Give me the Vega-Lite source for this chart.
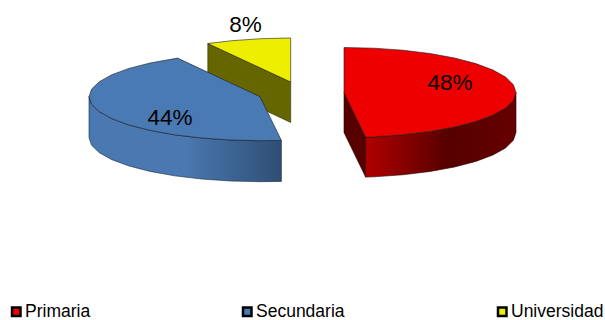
{
  "$schema": "https://vega.github.io/schema/vega-lite/v6.json",
  "width": 605,
  "height": 320,
  "padding": 0,
  "autosize": {"type": "fit", "contains": "padding"},
  "background": "white",
  "config": {"view": {"stroke": null}},
  "datasets": {
    "shares": [
      {"nivel": "Primaria", "share": 0.48, "lx": 450, "ly": 83},
      {"nivel": "Secundaria", "share": 0.44, "lx": 170, "ly": 118},
      {"nivel": "Universidad", "share": 0.08, "lx": 245.5, "ly": 25}
    ],
    "outlines": [
      {"part": "yellowWall", "seq": 0, "x": 207.8, "y": 43.5},
      {"part": "yellowWall", "seq": 1, "x": 290.7, "y": 82},
      {"part": "yellowWall", "seq": 2, "x": 290.7, "y": 122.5},
      {"part": "yellowWall", "seq": 3, "x": 207.8, "y": 83.5},
      {"part": "yellowWall", "seq": 4, "x": 207.8, "y": 43.5},

      {"part": "blueWall", "seq": 0, "x": 281.4, "y": 140.4},
      {"part": "blueWall", "seq": 1, "x": 260, "y": 140.7},
      {"part": "blueWall", "seq": 2, "x": 230.3, "y": 140},
      {"part": "blueWall", "seq": 3, "x": 201.5, "y": 138},
      {"part": "blueWall", "seq": 4, "x": 174.5, "y": 134.8},
      {"part": "blueWall", "seq": 5, "x": 150.1, "y": 130.4},
      {"part": "blueWall", "seq": 6, "x": 129, "y": 125},
      {"part": "blueWall", "seq": 7, "x": 111.9, "y": 118.7},
      {"part": "blueWall", "seq": 8, "x": 99.3, "y": 111.7},
      {"part": "blueWall", "seq": 9, "x": 91.6, "y": 104.3},
      {"part": "blueWall", "seq": 10, "x": 89, "y": 96.7},
      {"part": "blueWall", "seq": 11, "x": 89, "y": 137.7},
      {"part": "blueWall", "seq": 12, "x": 91.6, "y": 145.3},
      {"part": "blueWall", "seq": 13, "x": 99.3, "y": 152.7},
      {"part": "blueWall", "seq": 14, "x": 111.9, "y": 159.7},
      {"part": "blueWall", "seq": 15, "x": 129, "y": 166},
      {"part": "blueWall", "seq": 16, "x": 150.1, "y": 171.4},
      {"part": "blueWall", "seq": 17, "x": 174.5, "y": 175.8},
      {"part": "blueWall", "seq": 18, "x": 201.5, "y": 179},
      {"part": "blueWall", "seq": 19, "x": 230.3, "y": 181},
      {"part": "blueWall", "seq": 20, "x": 260, "y": 181.7},
      {"part": "blueWall", "seq": 21, "x": 281.4, "y": 181.4},
      {"part": "blueWall", "seq": 22, "x": 281.4, "y": 140.4},

      {"part": "redInner", "seq": 0, "x": 344, "y": 92.5},
      {"part": "redInner", "seq": 1, "x": 365.6, "y": 137.1},
      {"part": "redInner", "seq": 2, "x": 365.6, "y": 177.1},
      {"part": "redInner", "seq": 3, "x": 344, "y": 132.5},
      {"part": "redInner", "seq": 4, "x": 344, "y": 92.5},

      {"part": "redWall", "seq": 0, "x": 516, "y": 92.5},
      {"part": "redWall", "seq": 1, "x": 513.4, "y": 100.3},
      {"part": "redWall", "seq": 2, "x": 505.6, "y": 107.9},
      {"part": "redWall", "seq": 3, "x": 493, "y": 115},
      {"part": "redWall", "seq": 4, "x": 475.8, "y": 121.4},
      {"part": "redWall", "seq": 5, "x": 454.6, "y": 127},
      {"part": "redWall", "seq": 6, "x": 430, "y": 131.5},
      {"part": "redWall", "seq": 7, "x": 402.8, "y": 134.8},
      {"part": "redWall", "seq": 8, "x": 373.9, "y": 136.8},
      {"part": "redWall", "seq": 9, "x": 365.6, "y": 137.1},
      {"part": "redWall", "seq": 10, "x": 365.6, "y": 177.1},
      {"part": "redWall", "seq": 11, "x": 373.9, "y": 176.8},
      {"part": "redWall", "seq": 12, "x": 402.8, "y": 174.8},
      {"part": "redWall", "seq": 13, "x": 430, "y": 171.5},
      {"part": "redWall", "seq": 14, "x": 454.6, "y": 167},
      {"part": "redWall", "seq": 15, "x": 475.8, "y": 161.4},
      {"part": "redWall", "seq": 16, "x": 493, "y": 155},
      {"part": "redWall", "seq": 17, "x": 505.6, "y": 147.9},
      {"part": "redWall", "seq": 18, "x": 513.4, "y": 140.3},
      {"part": "redWall", "seq": 19, "x": 516, "y": 132.5},
      {"part": "redWall", "seq": 20, "x": 516, "y": 92.5},

      {"part": "top", "nivel": "Universidad", "seq": 0, "x": 290.7, "y": 82},
      {"part": "top", "nivel": "Universidad", "seq": 1, "x": 207.8, "y": 43.5},
      {"part": "top", "nivel": "Universidad", "seq": 2, "x": 231.9, "y": 40.7},
      {"part": "top", "nivel": "Universidad", "seq": 3, "x": 260.8, "y": 38.7},
      {"part": "top", "nivel": "Universidad", "seq": 4, "x": 290.7, "y": 38},
      {"part": "top", "nivel": "Universidad", "seq": 5, "x": 290.7, "y": 82},

      {"part": "top", "nivel": "Secundaria", "seq": 0, "x": 260, "y": 96.7},
      {"part": "top", "nivel": "Secundaria", "seq": 1, "x": 281.4, "y": 140.4},
      {"part": "top", "nivel": "Secundaria", "seq": 2, "x": 260, "y": 140.7},
      {"part": "top", "nivel": "Secundaria", "seq": 3, "x": 230.3, "y": 140},
      {"part": "top", "nivel": "Secundaria", "seq": 4, "x": 201.5, "y": 138},
      {"part": "top", "nivel": "Secundaria", "seq": 5, "x": 174.5, "y": 134.8},
      {"part": "top", "nivel": "Secundaria", "seq": 6, "x": 150.1, "y": 130.4},
      {"part": "top", "nivel": "Secundaria", "seq": 7, "x": 129, "y": 125},
      {"part": "top", "nivel": "Secundaria", "seq": 8, "x": 111.9, "y": 118.7},
      {"part": "top", "nivel": "Secundaria", "seq": 9, "x": 99.3, "y": 111.7},
      {"part": "top", "nivel": "Secundaria", "seq": 10, "x": 91.6, "y": 104.3},
      {"part": "top", "nivel": "Secundaria", "seq": 11, "x": 89, "y": 96.7},
      {"part": "top", "nivel": "Secundaria", "seq": 12, "x": 91.6, "y": 89.1},
      {"part": "top", "nivel": "Secundaria", "seq": 13, "x": 99.3, "y": 81.7},
      {"part": "top", "nivel": "Secundaria", "seq": 14, "x": 111.9, "y": 74.7},
      {"part": "top", "nivel": "Secundaria", "seq": 15, "x": 129, "y": 68.4},
      {"part": "top", "nivel": "Secundaria", "seq": 16, "x": 150.1, "y": 63},
      {"part": "top", "nivel": "Secundaria", "seq": 17, "x": 177.6, "y": 58.1},
      {"part": "top", "nivel": "Secundaria", "seq": 18, "x": 260, "y": 96.7},

      {"part": "top", "nivel": "Primaria", "seq": 0, "x": 344, "y": 92.5},
      {"part": "top", "nivel": "Primaria", "seq": 1, "x": 344, "y": 47.5},
      {"part": "top", "nivel": "Primaria", "seq": 2, "x": 373.9, "y": 48.2},
      {"part": "top", "nivel": "Primaria", "seq": 3, "x": 402.8, "y": 50.2},
      {"part": "top", "nivel": "Primaria", "seq": 4, "x": 430, "y": 53.5},
      {"part": "top", "nivel": "Primaria", "seq": 5, "x": 454.6, "y": 58},
      {"part": "top", "nivel": "Primaria", "seq": 6, "x": 475.8, "y": 63.6},
      {"part": "top", "nivel": "Primaria", "seq": 7, "x": 493, "y": 70},
      {"part": "top", "nivel": "Primaria", "seq": 8, "x": 505.6, "y": 77.1},
      {"part": "top", "nivel": "Primaria", "seq": 9, "x": 513.4, "y": 84.7},
      {"part": "top", "nivel": "Primaria", "seq": 10, "x": 516, "y": 92.5},
      {"part": "top", "nivel": "Primaria", "seq": 11, "x": 513.4, "y": 100.3},
      {"part": "top", "nivel": "Primaria", "seq": 12, "x": 505.6, "y": 107.9},
      {"part": "top", "nivel": "Primaria", "seq": 13, "x": 493, "y": 115},
      {"part": "top", "nivel": "Primaria", "seq": 14, "x": 475.8, "y": 121.4},
      {"part": "top", "nivel": "Primaria", "seq": 15, "x": 454.6, "y": 127},
      {"part": "top", "nivel": "Primaria", "seq": 16, "x": 430, "y": 131.5},
      {"part": "top", "nivel": "Primaria", "seq": 17, "x": 402.8, "y": 134.8},
      {"part": "top", "nivel": "Primaria", "seq": 18, "x": 373.9, "y": 136.8},
      {"part": "top", "nivel": "Primaria", "seq": 19, "x": 365.6, "y": 137.1},
      {"part": "top", "nivel": "Primaria", "seq": 20, "x": 344, "y": 92.5}
    ]
  },
  "data": {"name": "outlines"},
  "encoding": {
    "x": {"field": "x", "type": "quantitative", "scale": {"domain": [0, 605], "nice": false, "zero": false}, "axis": null},
    "y": {"field": "y", "type": "quantitative", "scale": {"domain": [320, 0], "nice": false, "zero": false}, "axis": null},
    "order": {"field": "seq", "type": "quantitative"}
  },
  "layer": [
    {
      "transform": [{"filter": "datum.part === 'yellowWall'"}],
      "mark": {"type": "line", "fill": "#666600", "stroke": "#2a2a00", "strokeWidth": 0.6}
    },
    {
      "transform": [{"filter": "datum.part === 'blueWall'"}],
      "mark": {
        "type": "line",
        "stroke": "#16283f",
        "strokeWidth": 0.6,
        "fill": {
          "gradient": "linear", "x1": 0, "x2": 1, "y1": 0, "y2": 0,
          "stops": [
            {"offset": 0, "color": "#4a78b0"},
            {"offset": 0.5, "color": "#4a78b0"},
            {"offset": 1, "color": "#2f4e75"}
          ]
        }
      }
    },
    {
      "transform": [{"filter": "datum.part === 'redInner'"}],
      "mark": {"type": "line", "fill": "#560000", "stroke": "#2a0000", "strokeWidth": 0.6}
    },
    {
      "transform": [{"filter": "datum.part === 'redWall'"}],
      "mark": {
        "type": "line",
        "stroke": "#2a0000",
        "strokeWidth": 0.6,
        "fill": {
          "gradient": "linear", "x1": 0, "x2": 1, "y1": 0, "y2": 0,
          "stops": [
            {"offset": 0, "color": "#b00000"},
            {"offset": 0.55, "color": "#560000"},
            {"offset": 1, "color": "#660000"}
          ]
        }
      }
    },
    {
      "transform": [{"filter": "datum.part === 'top'"}],
      "mark": {"type": "line", "stroke": "#1a1a1a", "strokeWidth": 0.6},
      "encoding": {
        "detail": {"field": "nivel"},
        "fill": {
          "field": "nivel",
          "type": "nominal",
          "scale": {
            "domain": ["Primaria", "Secundaria", "Universidad"],
            "range": ["#ee0000", "#4a7ab4", "#eeee00"]
          },
          "legend": {
            "title": null,
            "orient": "none",
            "direction": "horizontal",
            "columns": 3,
            "columnPadding": 147,
            "legendX": 7.5,
            "legendY": 303,
            "symbolType": "square",
            "symbolSize": 72,
            "symbolStrokeWidth": 2.5,
            "symbolStrokeColor": "#000000",
            "symbolOpacity": 1,
            "labelFont": "Liberation Sans",
            "labelFontSize": 17.5,
            "labelColor": "#000000",
            "labelOffset": 0,
            "labelLimit": 200
          }
        }
      }
    },
    {
      "data": {"name": "shares"},
      "mark": {"type": "text", "font": "Liberation Sans", "fontSize": 22.5, "color": "#000000"},
      "encoding": {
        "x": {"field": "lx", "type": "quantitative"},
        "y": {"field": "ly", "type": "quantitative"},
        "order": {"value": null},
        "text": {"field": "share", "type": "quantitative", "format": ".0%"}
      }
    }
  ]
}
